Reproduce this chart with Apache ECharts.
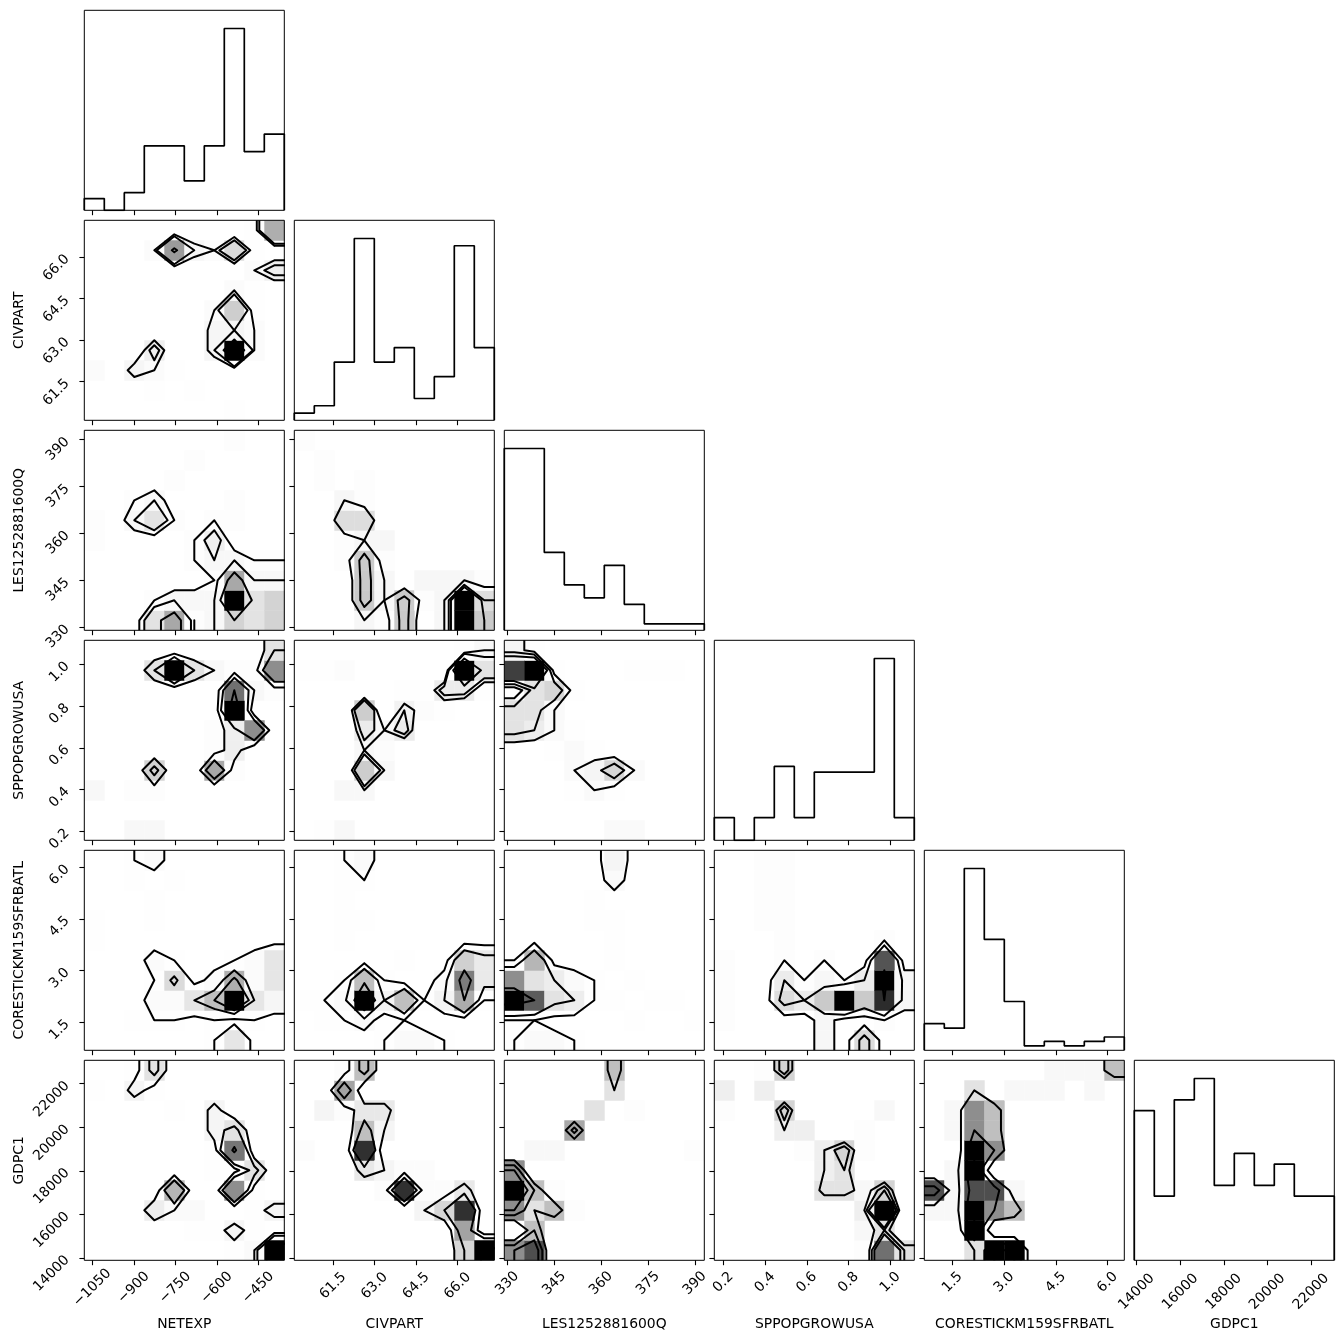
<!DOCTYPE html>
<html><head><meta charset="utf-8">
<script src="https://cdn.jsdelivr.net/npm/echarts@6/dist/echarts.min.js"></script>
<style>html,body{margin:0;padding:0;background:#fff}#c{width:1344px;height:1344px}</style>
</head><body><div id="c"></div>
<script>
// ---------------- DATA ----------------
const variableNames = ['NETEXP','CIVPART','LES1252881600Q','SPPOPGROWUSA','CORESTICKM159SFRBATL','GDPC1'];

const rangeNETEXP = [-1078.9, -356.0];
const rangeCIVPART = [60.10, 67.32];
const rangeLES = [329.04, 393.0];
const rangeSPPOP = [0.157, 1.115];
const rangeCORE = [0.683, 6.487];
const rangeGDPC1 = [13893, 23071];

const ticksNETEXP = [-1050, -900, -750, -600, -450];
const ticksCIVPART = [61.5, 63.0, 64.5, 66.0];
const ticksLES = [330, 345, 360, 375, 390];
const ticksSPPOP = [0.2, 0.4, 0.6, 0.8, 1.0];
const ticksCORE = [1.5, 3.0, 4.5, 6.0];
const ticksGDPC1 = [14000, 16000, 18000, 20000, 22000];

const tickLabelsNETEXP = ['\u22121050', '\u2212900', '\u2212750', '\u2212600', '\u2212450'];
const tickLabelsCIVPART = ['61.5', '63.0', '64.5', '66.0'];
const tickLabelsLES = ['330', '345', '360', '375', '390'];
const tickLabelsSPPOP = ['0.2', '0.4', '0.6', '0.8', '1.0'];
const tickLabelsCORE = ['1.5', '3.0', '4.5', '6.0'];
const tickLabelsGDPC1 = ['14000', '16000', '18000', '20000', '22000'];

// 1D histogram counts (10 bins each)
const histNETEXP = [2, 0, 3, 11, 11, 5, 11, 31, 10, 13];
const histCIVPART = [1, 2, 8, 25, 8, 10, 3, 6, 24, 10];
const histLES = [28, 28, 12, 7, 5, 10, 4, 1, 1, 1];
const histSPPOP = [4, 0, 4, 13, 4, 12, 12, 12, 32, 4];
const histCORE = [6, 5, 41, 25, 11, 1, 2, 1, 2, 3];
const histGDPC1 = [14, 6, 15, 17, 7, 10, 7, 9, 6, 6];

// 2D histogram cells [xBin, yBin, count]
const cellsNETEXP_CIVPART = [[9,9,9],[8,9,1],[4,8,10],[7,8,6],[3,8,2],[5,8,3],[6,8,2],[8,8,1],[9,7,4],[8,7,2],[7,6,2],[8,6,1],[7,5,7],[6,5,2],[8,5,1],[6,4,3],[7,4,3],[8,4,2],[7,3,16],[6,3,3],[8,3,2],[3,3,4],[2,2,3],[0,2,2],[3,2,2],[4,2,1],[3,1,1],[5,1,1],[7,0,1]];
const cellsNETEXP_LES = [[4,0,7],[7,0,5],[8,0,4],[9,0,5],[3,0,4],[6,0,2],[5,0,1],[7,1,12],[9,1,5],[8,1,4],[4,1,2],[6,1,2],[5,1,2],[3,1,1],[7,2,7],[8,2,2],[9,2,2],[6,2,1],[7,3,2],[6,3,2],[8,3,1],[9,3,1],[5,3,1],[6,4,3],[0,4,1],[5,4,1],[3,5,4],[2,5,2],[0,5,1],[4,5,1],[7,5,1],[6,5,1],[3,6,2],[2,6,1],[7,6,1],[4,7,1],[5,8,1],[7,9,1]];
const cellsCIVPART_LES = [[8,0,11],[8,1,11],[8,2,2],[9,0,5],[9,1,4],[9,2,1],[7,0,2],[7,1,2],[7,2,2],[6,2,2],[6,1,1],[5,0,5],[5,1,5],[4,1,2],[4,0,1],[4,3,1],[4,4,2],[4,2,2],[3,1,5],[3,2,5],[3,3,5],[3,0,2],[3,4,2],[3,5,4],[3,6,1],[3,7,1],[2,5,4],[2,4,1],[2,6,2],[2,3,1],[1,7,1],[1,8,1],[0,9,1]];
const cellsNETEXP_SPPOP = [[9,9,4],[4,8,12],[9,8,8],[3,8,4],[5,8,4],[6,8,2],[7,8,1],[8,8,1],[7,7,9],[9,7,1],[8,7,2],[7,6,12],[8,5,8],[7,5,3],[6,5,1],[7,4,3],[6,4,1],[6,3,7],[3,3,5],[7,3,1],[0,2,2],[2,2,1],[3,2,1],[2,0,2],[3,0,2]];
const cellsCIVPART_SPPOP = [[8,8,18],[8,7,5],[8,9,1],[9,8,6],[9,9,3],[9,7,1],[7,7,5],[7,6,1],[6,7,1],[6,6,2],[5,6,4],[5,5,5],[5,7,1],[4,5,3],[4,3,3],[4,4,2],[3,6,8],[3,5,5],[3,4,3],[3,3,8],[3,2,3],[2,8,2],[2,0,3],[2,2,3],[1,8,1],[1,0,1],[0,8,1]];
const cellsLES_SPPOP = [[1,8,15],[0,8,13],[2,8,1],[6,8,1],[7,8,1],[8,8,1],[0,9,3],[1,9,1],[2,7,6],[1,7,5],[3,7,1],[0,6,5],[1,6,5],[2,6,2],[0,5,5],[1,5,4],[2,5,2],[3,5,1],[3,4,2],[2,4,1],[4,4,1],[5,3,6],[4,3,3],[3,3,2],[6,3,2],[4,2,2],[5,2,1],[3,2,1],[5,0,2],[6,0,2]];
const cellsNETEXP_CORE = [[7,2,16],[6,2,8],[5,2,5],[8,2,5],[9,2,3],[4,2,2],[3,2,2],[7,3,9],[4,3,6],[9,3,5],[8,3,2],[6,3,2],[3,3,1],[9,4,5],[8,4,2],[3,4,2],[7,4,1],[4,4,1],[6,1,1],[8,1,1],[2,1,1],[3,1,1],[4,1,1],[7,0,5],[6,0,1],[0,5,1],[0,6,1],[3,6,1],[3,7,1],[2,8,1],[4,8,1],[3,9,2],[2,9,1]];
const cellsCIVPART_CORE = [[3,2,14],[8,2,8],[5,2,7],[4,2,3],[7,2,3],[2,2,2],[9,2,1],[6,2,1],[0,2,1],[1,2,1],[3,3,7],[8,3,10],[9,3,4],[7,3,2],[4,3,1],[2,3,1],[8,4,6],[9,4,4],[5,4,1],[2,1,1],[1,1,1],[5,1,1],[3,1,2],[5,0,2],[6,0,2],[4,0,1],[7,0,1],[2,5,1],[2,6,1],[3,6,1],[2,7,1],[3,8,1],[2,8,1],[3,9,2],[2,9,1]];
const cellsLES_CORE = [[0,2,15],[1,2,12],[2,2,5],[3,2,4],[4,2,1],[5,2,1],[7,2,1],[8,2,1],[0,3,10],[1,3,5],[2,3,4],[3,3,2],[6,3,1],[4,3,1],[1,4,8],[0,4,1],[5,4,1],[0,1,1],[1,1,1],[6,1,1],[9,1,1],[1,0,2],[2,0,2],[0,0,1],[3,0,1],[5,5,1],[4,6,1],[5,6,1],[4,7,1],[5,8,2],[5,9,3]];
const cellsSPPOP_CORE = [[8,3,11],[8,2,10],[8,4,9],[8,1,1],[8,5,1],[6,2,11],[6,3,1],[7,2,5],[7,3,3],[7,0,4],[5,2,5],[5,3,2],[5,0,2],[5,1,2],[5,4,1],[3,2,4],[3,3,3],[3,4,1],[3,5,1],[3,6,1],[3,7,1],[3,8,1],[3,9,1],[4,2,3],[4,3,1],[0,1,1],[0,2,1],[0,3,1],[0,4,1],[2,6,1],[2,7,1],[2,8,1],[2,9,1],[9,2,2],[9,3,2]];
const cellsNETEXP_GDPC1 = [[9,0,15],[7,5,11],[7,3,10],[4,3,8],[7,6,5],[8,4,5],[3,9,5],[3,2,4],[8,0,2],[9,2,3],[7,1,3],[2,8,3],[6,6,3],[6,7,3],[7,0,1],[5,2,2],[4,2,2],[8,3,1],[6,4,1],[7,4,1],[6,5,1],[8,1,1],[5,1,1],[6,1,1],[8,2,1],[4,7,1],[0,8,1],[2,9,1],[3,8,1]];
const cellsCIVPART_GDPC1 = [[9,0,10],[8,0,4],[8,1,6],[8,2,9],[7,2,4],[6,2,2],[5,3,9],[8,3,3],[6,3,1],[4,3,1],[7,3,1],[3,4,3],[4,4,2],[5,4,1],[6,4,1],[3,5,9],[0,5,1],[3,6,5],[4,6,2],[4,7,3],[3,7,3],[2,7,1],[1,7,2],[2,8,6],[3,9,5],[2,9,1]];
const cellsLES_GDPC1 = [[0,3,12],[1,0,10],[0,0,8],[0,2,8],[0,4,8],[3,6,7],[1,1,6],[2,2,6],[1,3,6],[5,9,6],[1,2,4],[5,8,4],[4,7,4],[1,5,2],[2,5,2],[3,2,1],[2,3,1],[9,5,1],[6,7,1]];
const cellsSPPOP_GDPC1 = [[8,0,9],[9,0,4],[7,0,1],[8,1,4],[7,1,2],[8,2,12],[7,2,3],[8,3,5],[5,3,4],[6,3,4],[7,3,2],[5,4,3],[6,4,4],[6,5,5],[5,5,3],[4,5,1],[7,5,1],[3,6,3],[4,6,3],[7,6,1],[3,7,5],[8,7,2],[0,7,1],[2,8,3],[0,8,3],[3,9,5],[2,9,1]];
const cellsCORE_GDPC1 = [[2,0,2],[3,0,6],[4,0,6],[2,1,6],[2,2,6],[3,2,4],[4,2,3],[0,2,1],[1,2,1],[2,3,5],[3,3,5],[0,3,5],[1,3,1],[4,3,1],[2,4,6],[1,4,1],[2,5,6],[3,5,4],[2,6,4],[3,6,3],[1,6,1],[2,7,4],[3,7,3],[1,7,1],[2,8,2],[4,8,1],[5,8,1],[6,8,1],[8,8,1],[6,9,1],[7,9,1],[8,9,1],[9,9,3]];

// ---------------- LAYOUT / STYLE ----------------
const FONT = 'DejaVu Sans';
const FS = 13.9;
const PANEL = 200, STEP = 210, LEFT0 = 84.3, TOP0 = 10.3;
const xLabelMargin = [27.5, 25.5, 23, 22, 22, 31.5];
const NB = 10;

const ranges = [rangeNETEXP, rangeCIVPART, rangeLES, rangeSPPOP, rangeCORE, rangeGDPC1];
const ticks = [ticksNETEXP, ticksCIVPART, ticksLES, ticksSPPOP, ticksCORE, ticksGDPC1];
const tickLabels = [tickLabelsNETEXP, tickLabelsCIVPART, tickLabelsLES, tickLabelsSPPOP, tickLabelsCORE, tickLabelsGDPC1];
const hists = [histNETEXP, histCIVPART, histLES, histSPPOP, histCORE, histGDPC1];
const panels = [
  [1,0,cellsNETEXP_CIVPART],
  [2,0,cellsNETEXP_LES],[2,1,cellsCIVPART_LES],
  [3,0,cellsNETEXP_SPPOP],[3,1,cellsCIVPART_SPPOP],[3,2,cellsLES_SPPOP],
  [4,0,cellsNETEXP_CORE],[4,1,cellsCIVPART_CORE],[4,2,cellsLES_CORE],[4,3,cellsSPPOP_CORE],
  [5,0,cellsNETEXP_GDPC1],[5,1,cellsCIVPART_GDPC1],[5,2,cellsLES_GDPC1],[5,3,cellsSPPOP_GDPC1],[5,4,cellsCORE_GDPC1]
];

// ---------------- HELPERS ----------------
function toGrid(cells){
  const H = Array.from({length:NB}, () => new Array(NB).fill(0));
  cells.forEach(([i,j,c]) => { H[i][j] += c; });
  return H;
}
function contourLevels(H){
  const flat = [].concat(...H).sort((a,b) => b-a);
  const total = flat.reduce((s,v) => s+v, 0);
  let cum = 0; const sm = flat.map(v => (cum += v) / total);
  const lv = [0.5, 1, 1.5, 2].map(s => 1 - Math.exp(-0.5*s*s));
  const V = lv.map(v0 => { let idx = -1; for (let k=0;k<sm.length;k++) if (sm[k] <= v0) idx = k; return idx >= 0 ? flat[idx] : flat[0]; });
  V.sort((a,b) => a-b);
  for (let guard=0; guard<200; guard++){
    let k = -1;
    for (let q=0;q<V.length-1;q++) if (V[q+1]-V[q] === 0){ k = q; break; }
    if (k < 0) break;
    V[k] *= 1 - 1e-4; V.sort((a,b) => a-b);
  }
  return V;
}
function padGrid(H){
  const M = NB + 4; const mn = Math.min(...[].concat(...H));
  const Z = Array.from({length:M}, () => new Array(M).fill(mn));
  for (let i=0;i<NB;i++) for (let j=0;j<NB;j++) Z[i+2][j+2] = H[i][j];
  for (let i=0;i<NB;i++){ Z[i+2][1] = H[i][0]; Z[i+2][M-2] = H[i][NB-1]; }
  for (let j=0;j<NB;j++){ Z[1][j+2] = H[0][j]; Z[M-2][j+2] = H[NB-1][j]; }
  Z[1][1] = H[0][0]; Z[1][M-2] = H[0][NB-1]; Z[M-2][1] = H[NB-1][0]; Z[M-2][M-2] = H[NB-1][NB-1];
  return Z;
}
function paddedCenters(r){
  const d = (r[1]-r[0]) / NB; const c = [];
  for (let k=-2;k<NB+2;k++) c.push(r[0] + (k+0.5)*d);
  return c;
}
function march(Z, X, Y, L){
  const M = Z.length; const segs = [];
  for (let a=0;a<M-1;a++) for (let b=0;b<M-1;b++){
    const z0=Z[a][b], z1=Z[a+1][b], z2=Z[a+1][b+1], z3=Z[a][b+1];
    const idx = (z0>L?1:0) | (z1>L?2:0) | (z2>L?4:0) | (z3>L?8:0);
    if (idx === 0 || idx === 15) continue;
    const E = [
      () => { const t=(L-z0)/(z1-z0); return {key:'h'+a+'_'+b, x:X[a]+t*(X[a+1]-X[a]), y:Y[b]}; },
      () => { const t=(L-z1)/(z2-z1); return {key:'v'+(a+1)+'_'+b, x:X[a+1], y:Y[b]+t*(Y[b+1]-Y[b])}; },
      () => { const t=(L-z3)/(z2-z3); return {key:'h'+a+'_'+(b+1), x:X[a]+t*(X[a+1]-X[a]), y:Y[b+1]}; },
      () => { const t=(L-z0)/(z3-z0); return {key:'v'+a+'_'+b, x:X[a], y:Y[b]+t*(Y[b+1]-Y[b])}; }
    ];
    const center = (z0+z1+z2+z3)/4 > L;
    let pr;
    switch (idx){
      case 1: case 14: pr=[[3,0]]; break;
      case 2: case 13: pr=[[0,1]]; break;
      case 3: case 12: pr=[[3,1]]; break;
      case 4: case 11: pr=[[1,2]]; break;
      case 6: case 9: pr=[[0,2]]; break;
      case 7: case 8: pr=[[2,3]]; break;
      case 5: pr = center ? [[0,1],[2,3]] : [[3,0],[1,2]]; break;
      case 10: pr = center ? [[3,0],[1,2]] : [[0,1],[2,3]]; break;
    }
    pr.forEach(([e1,e2]) => segs.push([E[e1](), E[e2]()]));
  }
  return segs;
}
function chain(segs){
  const map = new Map();
  segs.forEach((s,k) => s.forEach(p => { if (!map.has(p.key)) map.set(p.key, []); map.get(p.key).push(k); }));
  const used = new Array(segs.length).fill(false); const lines = [];
  for (let k=0;k<segs.length;k++){
    if (used[k]) continue; used[k] = true;
    const line = [segs[k][0], segs[k][1]];
    let cur = segs[k][1];
    while (true){
      const cand = (map.get(cur.key) || []).find(q => !used[q]);
      if (cand === undefined) break;
      used[cand] = true; const s = segs[cand];
      const nxt = s[0].key === cur.key ? s[1] : s[0];
      line.push(nxt); cur = nxt;
    }
    cur = segs[k][0];
    while (true){
      const cand = (map.get(cur.key) || []).find(q => !used[q]);
      if (cand === undefined) break;
      used[cand] = true; const s = segs[cand];
      const nxt = s[0].key === cur.key ? s[1] : s[0];
      line.unshift(nxt); cur = nxt;
    }
    lines.push(line);
  }
  return lines;
}
function labelFor(v, tv, tl){
  for (let k=0;k<tv.length;k++) if (Math.abs(tv[k]-v) < 1e-6*Math.max(1,Math.abs(v))) return tl[k];
  return '';
}

// ---------------- BUILD OPTION ----------------
const grids = [], xAxes = [], yAxes = [], series = [];
const textStyle = {color:'#000', fontFamily:FONT, fontSize:FS};

function addGrid(r, c){
  grids.push({left: LEFT0 + STEP*c, top: TOP0 + STEP*r, width: PANEL, height: PANEL,
    show: true, borderColor: '#000', borderWidth: 1, backgroundColor: 'rgba(0,0,0,0)', z: 5});
  return grids.length - 1;
}
function makeXAxis(g, v, showLabels){
  return {gridIndex:g, type:'value', min:ranges[v][0], max:ranges[v][1], z:6,
    axisLine:{show:false}, splitLine:{show:false},
    axisTick:{show:true, customValues:ticks[v], length:4.9, lineStyle:{color:'#000', width:1.1}},
    axisLabel:{show:showLabels, customValues:ticks[v], formatter:(val) => labelFor(val, ticks[v], tickLabels[v]),
      rotate:45, align:'center', verticalAlign:'middle', margin:xLabelMargin[v], ...textStyle},
    name: showLabels ? variableNames[v] : '', nameLocation:'middle', nameGap:57, nameTextStyle:{...textStyle}};
}
function makeYAxis(g, v, showLabels){
  return {gridIndex:g, type:'value', min:ranges[v][0], max:ranges[v][1], z:6,
    axisLine:{show:false}, splitLine:{show:false},
    axisTick:{show:true, customValues:ticks[v], length:4.9, lineStyle:{color:'#000', width:1.1}},
    axisLabel:{show:showLabels, customValues:ticks[v], formatter:(val) => labelFor(val, ticks[v], tickLabels[v]),
      rotate:45, margin:17, ...textStyle},
    name: showLabels ? variableNames[v] : '', nameLocation:'middle', nameGap:58, nameTextStyle:{...textStyle}};
}

// diagonal histograms
for (let k=0;k<6;k++){
  const g = addGrid(k, k);
  xAxes.push(makeXAxis(g, k, k === 5));
  const hmax = Math.max(...hists[k]);
  yAxes.push({gridIndex:g, type:'value', min:0, max:1.1*hmax, axisLine:{show:false}, splitLine:{show:false}, axisTick:{show:false}, axisLabel:{show:false}});
  const r = ranges[k], d = (r[1]-r[0])/NB;
  const pts = [[r[0], 0]];
  hists[k].forEach((c, b) => { pts.push([r[0]+b*d, c]); pts.push([r[0]+(b+1)*d, c]); });
  pts.push([r[1], 0]);
  series.push({type:'line', xAxisIndex:g, yAxisIndex:g, data:pts, symbol:'none', silent:true, z:3,
    lineStyle:{color:'#000', width:1.7}, animation:false});
}

// lower-triangle 2D histograms + contours
panels.forEach(([r, c, cells]) => {
  const g = addGrid(r, c);
  xAxes.push(makeXAxis(g, c, r === 5));
  yAxes.push(makeYAxis(g, r, c === 0));
  const xr = ranges[c], yr = ranges[r];
  const dx = (xr[1]-xr[0])/NB, dy = (yr[1]-yr[0])/NB;
  const H = toGrid(cells);
  const hmax = Math.max(...[].concat(...H));
  const cellData = [];
  for (let i=0;i<NB;i++) for (let j=0;j<NB;j++) if (H[i][j] > 0)
    cellData.push([xr[0]+(i+0.5)*dx, yr[0]+(j+0.5)*dy, H[i][j]]);
  series.push({type:'custom', xAxisIndex:g, yAxisIndex:g, clip:true, silent:true, z:1, animation:false,
    encode:{x:0, y:1}, data: cellData,
    renderItem: (params, api) => {
      const cx = api.value(0), cy = api.value(1), cnt = api.value(2);
      const p0 = api.coord([cx-dx/2, cy+dy/2]), p1 = api.coord([cx+dx/2, cy-dy/2]);
      const f = cnt / hmax; const gv = Math.round(255*(1 - f*f));
      return {type:'rect', shape:{x:p0[0], y:p0[1], width:p1[0]-p0[0]+0.4, height:p1[1]-p0[1]+0.4},
        style:{fill:'rgb('+gv+','+gv+','+gv+')'}};
    }});
  const V = contourLevels(H);
  const Z = padGrid(H), X2 = paddedCenters(xr), Y2 = paddedCenters(yr);
  const polys = [];
  V.forEach(L => chain(march(Z, X2, Y2, L)).forEach(pl => polys.push(pl)));
  const xm = (xr[0]+xr[1])/2, ym = (yr[0]+yr[1])/2;
  series.push({type:'custom', xAxisIndex:g, yAxisIndex:g, clip:true, silent:true, z:3, animation:false,
    encode:{x:0, y:1}, data: polys.map((pl, k) => [xm, ym, k]),
    renderItem: (params, api) => {
      const pl = polys[api.value(2)];
      return {type:'polyline', shape:{points: pl.map(p => api.coord([p.x, p.y]))},
        style:{stroke:'#000', lineWidth:2, fill:null, lineJoin:'round', lineCap:'round'}};
    }});
});

const chart = echarts.init(document.getElementById('c'), null, {renderer:'canvas', width:1344, height:1344});
chart.setOption({backgroundColor:'#fff', animation:false, grid:grids, xAxis:xAxes, yAxis:yAxes, series:series});
</script>
</body></html>
